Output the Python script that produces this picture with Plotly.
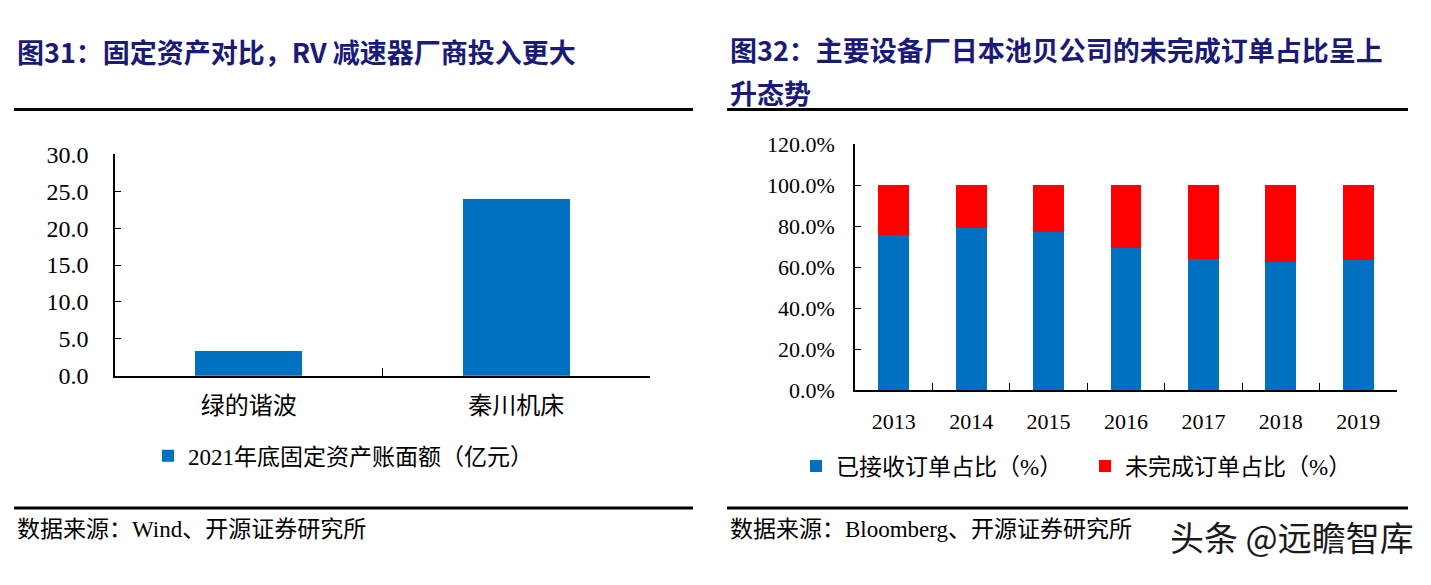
import plotly.graph_objects as go

W, H = 1431, 585

# ---- data ----
left_categories = ["绿的谐波", "秦川机床"]
left_values = [3.3, 24.0]
left_series_name = "2021年底固定资产账面额（亿元）"

years = ["2013", "2014", "2015", "2016", "2017", "2018", "2019"]
received_pct = [75.5, 78.9, 77.3, 69.3, 63.8, 62.4, 63.7]
unfinished_pct = [24.5, 21.1, 22.7, 30.7, 36.2, 37.6, 36.3]
right_series_names = ["已接收订单占比（%）", "未完成订单占比（%）"]

left_yticks = [0, 5, 10, 15, 20, 25, 30]
right_yticks = [0, 20, 40, 60, 80, 100, 120]

BLUE = "#0070C0"
RED = "#FF0000"
NAVY = "#1A1A78"
SERIF = "Liberation Serif, Noto Sans CJK SC, serif"
CJK = "Noto Sans CJK SC, sans-serif"


def px(x):
    return x / W


def py(y):
    return 1 - y / H


fig = go.Figure()

fig.add_trace(go.Bar(
    x=left_categories, y=left_values, name=left_series_name,
    marker=dict(color=BLUE, line=dict(width=0)),
    xaxis="x", yaxis="y", legend="legend",
))
fig.add_trace(go.Bar(
    x=years, y=received_pct, name=right_series_names[0],
    marker=dict(color=BLUE, line=dict(width=0)),
    xaxis="x2", yaxis="y2", legend="legend2",
))
fig.add_trace(go.Bar(
    x=years, y=unfinished_pct, name=right_series_names[1],
    marker=dict(color=RED, line=dict(width=0)),
    xaxis="x2", yaxis="y2", legend="legend2",
))

axis_common = dict(showline=True, linecolor="black", linewidth=1.5,
                   showgrid=False, zeroline=False, ticks="inside",
                   tickcolor="black", tickwidth=1.2)

fig.update_layout(
    width=W, height=H,
    margin=dict(l=0, r=0, t=0, b=0),
    paper_bgcolor="white", plot_bgcolor="white",
    barmode="stack",
    bargap=0.6,
    xaxis=dict(domain=[px(115), px(650)], anchor="y", type="category",
               tickson="boundaries", ticklen=8,
               tickfont=dict(family=SERIF, size=24, color="black"),
               ticklabelstandoff=8, **axis_common),
    yaxis=dict(domain=[py(379.5), py(148)], anchor="x", range=[0, 30],
               tickvals=left_yticks,
               ticktext=[f"{v:.1f}" for v in left_yticks], ticklen=6,
               tickfont=dict(family=SERIF, size=24, color="black"),
               ticklabelstandoff=20, **axis_common),
    xaxis2=dict(domain=[px(855), px(1397)], anchor="y2", type="category",
                tickson="boundaries", ticklen=8,
                tickfont=dict(family=SERIF, size=22, color="black"),
                ticklabelstandoff=10, **axis_common),
    yaxis2=dict(domain=[py(395), py(137)], anchor="x2", range=[0, 120],
                tickvals=right_yticks,
                ticktext=[f"{v:.1f}%" for v in right_yticks],
                ticklen=6,
                tickfont=dict(family=SERIF, size=22, color="black"),
                ticklabelstandoff=14, **axis_common),
    legend=dict(x=px(148), y=py(463.5), xanchor="left", yanchor="middle",
                orientation="h", bgcolor="rgba(0,0,0,0)",
                font=dict(family=SERIF, size=23, color="black")),
    legend2=dict(x=px(796), y=py(474), xanchor="left", yanchor="middle",
                 orientation="h", entrywidth=244, entrywidthmode="pixels",
                 traceorder="normal",
                 bgcolor="rgba(0,0,0,0)",
                 font=dict(family=SERIF, size=23, color="black")),
    showlegend=True,
)

# titles
fig.add_annotation(x=px(15), y=py(40), xref="paper", yref="paper",
                   xanchor="left", yanchor="middle", showarrow=False,
                   text="<b>图31：固定资产对比，RV 减速器厂商投入更大</b>",
                   font=dict(family=CJK, size=27, color=NAVY))
fig.add_annotation(x=px(728), y=py(38), xref="paper", yref="paper",
                   xanchor="left", yanchor="middle", showarrow=False,
                   text="<b>图32：主要设备厂日本池贝公司的未完成订单占比呈上</b>",
                   font=dict(family=CJK, size=27, color=NAVY))
fig.add_annotation(x=px(728), y=py(83), xref="paper", yref="paper",
                   xanchor="left", yanchor="middle", showarrow=False,
                   text="<b>升态势</b>",
                   font=dict(family=CJK, size=27, color=NAVY))

# sources
fig.add_annotation(x=px(15), y=py(541), xref="paper", yref="paper",
                   xanchor="left", yanchor="middle", showarrow=False,
                   text="数据来源：Wind、开源证券研究所",
                   font=dict(family=SERIF, size=23, color="black"))
fig.add_annotation(x=px(728), y=py(541), xref="paper", yref="paper",
                   xanchor="left", yanchor="middle", showarrow=False,
                   text="数据来源：Bloomberg、开源证券研究所",
                   font=dict(family=SERIF, size=23, color="black"))
# watermark
fig.add_annotation(x=px(1416), y=py(548), xref="paper", yref="paper",
                   xanchor="right", yanchor="middle", showarrow=False,
                   text="头条 @远瞻智库",
                   font=dict(family=CJK, size=34, color="#1a1a1a"))

# separator lines
for x0, x1 in [(14, 693), (727, 1408)]:
    fig.add_shape(type="line", xref="paper", yref="paper",
                  x0=px(x0), x1=px(x1), y0=py(518), y1=py(518),
                  line=dict(color="black", width=3))
    fig.add_shape(type="line", xref="paper", yref="paper",
                  x0=px(x0), x1=px(x1), y0=py(101), y1=py(101),
                  line=dict(color="black", width=3))

fig.write_html("out.html")
